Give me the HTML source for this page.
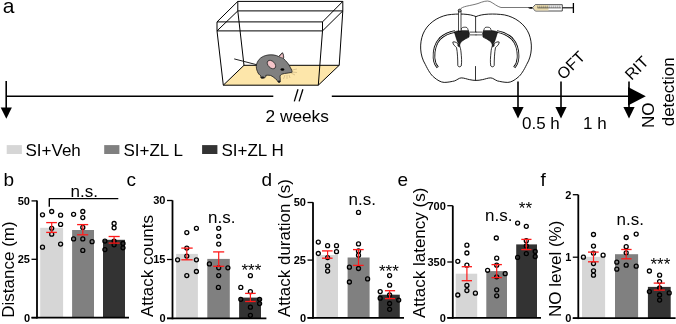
<!DOCTYPE html>
<html><head><meta charset="utf-8"><style>
html,body{margin:0;padding:0;background:#fff;width:676px;height:324px;overflow:hidden;position:relative}
</style></head><body>
<svg width="676" height="324" viewBox="0 0 676 324" style="position:absolute;left:0;top:0;will-change:transform">
<g font-family='"Liberation Sans", sans-serif' fill="#000">
<text x="2.8" y="13.1" font-size="21" text-anchor="start" font-weight="normal" >a</text>
<line x1="6.2" y1="96.2" x2="273.3" y2="96.2" stroke="#000" stroke-width="1.6"/>
<line x1="331.8" y1="96.2" x2="630" y2="96.2" stroke="#000" stroke-width="1.6"/>
<line x1="6.2" y1="81" x2="6.2" y2="108" stroke="#000" stroke-width="1.6"/>
<polygon points="0.7,107.4 11.9,107.4 6.3,118.8" fill="#000"/>
<line x1="298" y1="89.3" x2="294.3" y2="101.4" stroke="#000" stroke-width="1.3"/>
<line x1="302.9" y1="89.3" x2="299.1" y2="101.4" stroke="#000" stroke-width="1.3"/>
<text x="265.5" y="121.9" font-size="17.3" text-anchor="start" font-weight="normal" >2 weeks</text>
<line x1="518" y1="81.5" x2="518" y2="108" stroke="#000" stroke-width="1.6"/>
<polygon points="512.4,107 523.6,107 518,118.5" fill="#000"/>
<line x1="561" y1="81.5" x2="561" y2="108" stroke="#000" stroke-width="1.6"/>
<polygon points="555.4,107 566.6,107 561,118.5" fill="#000"/>
<line x1="629" y1="81.5" x2="629" y2="108" stroke="#000" stroke-width="1.6"/>
<polygon points="623.4,107 634.6,107 629,118.5" fill="#000"/>
<polygon points="628,87 628,105.6 645.8,96.3" fill="#000"/>
<text x="522" y="128.6" font-size="17" text-anchor="start" font-weight="normal" >0.5 h</text>
<text x="583" y="128.6" font-size="17" text-anchor="start" font-weight="normal" >1 h</text>
<text transform="translate(563.5,80.4) rotate(-45)" font-size="16" text-anchor="start">OFT</text>
<text transform="translate(631.4,81.1) rotate(-45)" font-size="16" text-anchor="start">RIT</text>
<text transform="translate(653.5,128) rotate(-90)" font-size="17" text-anchor="start">NO</text>
<text transform="translate(673.5,126.3) rotate(-90)" font-size="17" text-anchor="start">detection</text>
<polygon points="223.3,85.2 318.3,85.2 339.2,65.3 244,65.3" fill="#fde6aa" stroke="#000" stroke-width="1"/>
<line x1="237.8" y1="1.4" x2="342.8" y2="1.4" stroke="#000" stroke-width="1"/>
<line x1="237.8" y1="10.9" x2="342.8" y2="10.9" stroke="#000" stroke-width="1"/>
<line x1="217" y1="21.9" x2="322.5" y2="21.9" stroke="#000" stroke-width="1"/>
<line x1="217" y1="30.9" x2="322.5" y2="30.9" stroke="#000" stroke-width="1"/>
<line x1="217" y1="21.9" x2="237.8" y2="1.4" stroke="#000" stroke-width="1"/>
<line x1="217" y1="30.9" x2="237.8" y2="10.9" stroke="#000" stroke-width="1"/>
<line x1="322.5" y1="21.9" x2="342.8" y2="1.4" stroke="#000" stroke-width="1"/>
<line x1="322.5" y1="30.9" x2="342.8" y2="10.9" stroke="#000" stroke-width="1"/>
<line x1="217" y1="21.9" x2="217" y2="30.9" stroke="#000" stroke-width="1"/>
<line x1="237.8" y1="1.4" x2="237.8" y2="10.9" stroke="#000" stroke-width="1"/>
<line x1="342.8" y1="1.4" x2="342.8" y2="10.9" stroke="#000" stroke-width="1"/>
<line x1="322.5" y1="21.9" x2="322.5" y2="30.9" stroke="#000" stroke-width="1"/>
<line x1="217" y1="30.9" x2="223.3" y2="85.2" stroke="#000" stroke-width="1"/>
<line x1="322.5" y1="30.9" x2="318.3" y2="85.2" stroke="#000" stroke-width="1"/>
<line x1="342.8" y1="10.9" x2="339.2" y2="65.5" stroke="#000" stroke-width="1"/>
<line x1="237.8" y1="10.9" x2="244" y2="65.5" stroke="#000" stroke-width="1"/>
<path d="M234.2,58.9 L257,64.8" stroke="#222" stroke-width="1" fill="none"/>
<path d="M256.5,64.6 C258,59 262,56 268,55 C272,54.5 276,55 278.6,56.5 L282.4,52.7 C283.5,54.5 284,57 283.5,58.6 C286,61 289,64 290.5,67.8 C291.5,69.5 292.3,71 292.1,72.3 C290,73 287,73 284.5,73.5 C282,74 280.5,74.5 280,76 L280.3,80.5 C280.5,82 279.5,82.8 278.5,82.3 C277.5,81.8 277.3,80.8 277,80 C275,78.5 272.5,76 270.4,75.4 C268.5,75 267,75.2 265.8,75.4 C266,76.5 265.5,77.5 264.5,77.8 L262,78.3 C260.8,78.3 260.5,77 261,76 C259.5,75 258,73.5 257.5,71.7 C256.5,69.5 256,67 256.5,64.6 Z" fill="#808080" stroke="#1a1a1a" stroke-width="0.8"/>
<ellipse cx="262.6" cy="77.4" rx="1.9" ry="0.9" fill="#1a1a1a"/>
<ellipse cx="279.2" cy="81.6" rx="1.3" ry="1" fill="#1a1a1a"/>
<path d="M279,56.8 L282.4,52.9 C283.3,54.6 283.6,56.8 283.3,58.3 Z" fill="#f4c4c8" stroke="#1a1a1a" stroke-width="0.5"/>
<ellipse cx="271.6" cy="64.6" rx="5" ry="3.3" transform="rotate(45 271.6 64.4)" fill="#f4c4c8" stroke="#333" stroke-width="0.9"/>
<ellipse cx="282.4" cy="69.5" rx="1.9" ry="1.25" fill="#000"/>
<path d="M292,70 L297,69 M292,72 L297,72.5 M291,73 L295,75 M285,75 L283.5,79 M287,75 L287,79 M289,75 L290,78" stroke="#b8a070" stroke-width="0.5" fill="none"/>
<path d="M476,16.6 C470,13.8 458,13.4 447.6,14.9 C437,17 427,24 423,34 C419.5,43 419.5,55 425.4,64.6 C428,70 431,75 433.9,77.2 C437,80 441,82.4 444.2,82.4 C448,82.4 452,81.5 454.6,80.9 C457,80 459,78 461.2,77.9 C464,77.8 467,79.2 469.4,79.6 C472,80.2 474,80.4 476,80.4 C478,80.4 480,80.2 482.6,79.6 C485,79.2 488,77.8 490.8,77.9 C493,78 495,80 497.4,80.9 C500,81.5 504,82.4 507.8,82.4 C511,82.4 515,80 518.1,77.2 C521,75 524,70 526.6,64.6 C532.5,55 532.5,43 529,34 C525,24 515,17 504.4,14.9 C494,13.4 482,13.8 476,16.6 Z" fill="#fff" stroke="#000" stroke-width="0.9"/>
<line x1="475.6" y1="16.6" x2="475.6" y2="32" stroke="#000" stroke-width="0.8"/>
<line x1="475.5" y1="66.1" x2="475.5" y2="80.4" stroke="#000" stroke-width="0.8"/>
<g><path d="M455,31.5 C449,32.5 444,35 440,38.5 C436,43 433.5,50 434,58 C434.3,62.5 436,65.5 437.8,67.5" fill="none" stroke="#000" stroke-width="2.5"/><path d="M455,31.5 C449,32.5 444,35 440,38.5 C436,43 433.5,50 434,58 C434.3,62.5 436,65.5 437.8,67.5" fill="none" stroke="#fff" stroke-width="0.9"/><path d="M469.9,32.1 L476.5,32.1 M469.9,34.9 L476.5,34.9" stroke="#000" stroke-width="0.7"/><path d="M454.3,31.9 C457,30.8 462,30.2 468.5,30.4 L469.4,33.2 L469,37.1 C467.5,38 466.5,38.5 465.3,39 L461.5,41.5 L459.5,44.5 L457.8,42.5 C457,40.5 456.3,38.5 455.6,36 Z" fill="#222" stroke="#000" stroke-width="0.6"/><path d="M461,30.3 C461,28.5 462,27.2 464,27.2 L466,27.2 C467.5,27.5 468,29 468,30.3" fill="#fff" stroke="#000" stroke-width="0.7"/><path d="M452.8,42 C454,41.5 456,42 457.5,43.5 C459.5,44.5 460.5,47 461,52 C461.5,57 462,62 461.2,66 C460,67.3 458.3,67 457.8,65.5 C457.8,60 457.5,52 456.5,47.5 C455,46 453,45 452.8,42 Z" fill="#fff" stroke="#000" stroke-width="0.8"/><path d="M457.5,43.5 L460.5,44.5 L459.5,47.5 L457.5,46 Z" fill="#222"/></g>
<g transform="translate(952,0) scale(-1,1)"><path d="M455,31.5 C449,32.5 444,35 440,38.5 C436,43 433.5,50 434,58 C434.3,62.5 436,65.5 437.8,67.5" fill="none" stroke="#000" stroke-width="2.5"/><path d="M455,31.5 C449,32.5 444,35 440,38.5 C436,43 433.5,50 434,58 C434.3,62.5 436,65.5 437.8,67.5" fill="none" stroke="#fff" stroke-width="0.9"/><path d="M469.9,32.1 L476.5,32.1 M469.9,34.9 L476.5,34.9" stroke="#000" stroke-width="0.7"/><path d="M454.3,31.9 C457,30.8 462,30.2 468.5,30.4 L469.4,33.2 L469,37.1 C467.5,38 466.5,38.5 465.3,39 L461.5,41.5 L459.5,44.5 L457.8,42.5 C457,40.5 456.3,38.5 455.6,36 Z" fill="#222" stroke="#000" stroke-width="0.6"/><path d="M461,30.3 C461,28.5 462,27.2 464,27.2 L466,27.2 C467.5,27.5 468,29 468,30.3" fill="#fff" stroke="#000" stroke-width="0.7"/><path d="M452.8,42 C454,41.5 456,42 457.5,43.5 C459.5,44.5 460.5,47 461,52 C461.5,57 462,62 461.2,66 C460,67.3 458.3,67 457.8,65.5 C457.8,60 457.5,52 456.5,47.5 C455,46 453,45 452.8,42 Z" fill="#fff" stroke="#000" stroke-width="0.8"/><path d="M457.5,43.5 L460.5,44.5 L459.5,47.5 L457.5,46 Z" fill="#222"/></g>
<rect x="458.4" y="11" width="2.6" height="20" fill="#fff" stroke="#000" stroke-width="0.7"/>
<circle cx="459.7" cy="10.6" r="1.5" fill="#999" stroke="#000" stroke-width="0.7"/>
<path d="M460,9.6 C462,6 470,6 478,3.5 C483,1.5 487,0.3 490,1.5 C494,3.5 497,6.5 501,7.5 L529,7.5" fill="none" stroke="#555" stroke-width="0.8"/>
<path d="M528,7.8 C529,6.9 531,6.9 532.6,7.2 L532.6,8.4 C531,8.8 529,8.8 528,7.8 Z" fill="#000"/>
<path d="M532.6,7.8 L535.3,4.7 L562.3,4.7 L562.3,11 L535.3,11 Z" fill="#fff" stroke="#222" stroke-width="0.8"/>
<path d="M533.4,7.8 L535.6,5.1 L548.5,5.1 L548.5,10.6 L535.6,10.6 Z" fill="#ebdcae"/>
<line x1="537.5" y1="7.9" x2="561" y2="7.9" stroke="#333" stroke-width="0.7"/>
<line x1="537.8" y1="5.6" x2="537.8" y2="7.9" stroke="#333" stroke-width="0.45"/>
<line x1="539.8" y1="5.6" x2="539.8" y2="7.9" stroke="#333" stroke-width="0.45"/>
<line x1="541.8" y1="5.6" x2="541.8" y2="7.9" stroke="#333" stroke-width="0.45"/>
<line x1="543.8" y1="5.6" x2="543.8" y2="7.9" stroke="#333" stroke-width="0.45"/>
<line x1="545.8" y1="5.6" x2="545.8" y2="7.9" stroke="#333" stroke-width="0.45"/>
<line x1="547.8" y1="5.6" x2="547.8" y2="7.9" stroke="#333" stroke-width="0.45"/>
<line x1="549.8" y1="5.6" x2="549.8" y2="7.9" stroke="#333" stroke-width="0.45"/>
<line x1="551.8" y1="5.6" x2="551.8" y2="7.9" stroke="#333" stroke-width="0.45"/>
<line x1="553.8" y1="5.6" x2="553.8" y2="7.9" stroke="#333" stroke-width="0.45"/>
<line x1="555.8" y1="5.6" x2="555.8" y2="7.9" stroke="#333" stroke-width="0.45"/>
<line x1="557.8" y1="5.6" x2="557.8" y2="7.9" stroke="#333" stroke-width="0.45"/>
<line x1="559.8" y1="5.6" x2="559.8" y2="7.9" stroke="#333" stroke-width="0.45"/>
<line x1="562.3" y1="7.8" x2="573" y2="7.8" stroke="#000" stroke-width="1.1"/>
<line x1="573.4" y1="3" x2="573.4" y2="13" stroke="#000" stroke-width="1.3"/>
<rect x="6.7" y="145.1" width="15.2" height="8.9" fill="#d6d6d6"/>
<text x="25.5" y="155.8" font-size="17" text-anchor="start" font-weight="normal" >SI+Veh</text>
<rect x="104.2" y="145.1" width="15.2" height="8.9" fill="#808080"/>
<text x="123.5" y="155.8" font-size="17" text-anchor="start" font-weight="normal" >SI+ZL L</text>
<rect x="202.1" y="145.1" width="15.3" height="8.9" fill="#333333"/>
<text x="221.5" y="155.8" font-size="17" text-anchor="start" font-weight="normal" >SI+ZL H</text>
<text x="3.5" y="185.6" font-size="19" text-anchor="start" font-weight="normal" >b</text>
<text x="126.5" y="185.6" font-size="19" text-anchor="start" font-weight="normal" >c</text>
<text x="261.5" y="185.6" font-size="19" text-anchor="start" font-weight="normal" >d</text>
<text x="397.5" y="185.6" font-size="19" text-anchor="start" font-weight="normal" >e</text>
<text x="540.5" y="185.6" font-size="19" text-anchor="start" font-weight="normal" >f</text>
<rect x="40.2" y="227.8" width="22.9" height="89.89999999999998" fill="#d6d6d6"/>
<rect x="72.1" y="230" width="21.900000000000006" height="87.69999999999999" fill="#808080"/>
<rect x="103" y="239.8" width="22" height="77.89999999999998" fill="#333333"/>
<line x1="37" y1="200.5" x2="37" y2="318.59999999999997" stroke="#000" stroke-width="1.8"/>
<line x1="31.5" y1="317.7" x2="129" y2="317.7" stroke="#000" stroke-width="1.8"/>
<line x1="31.5" y1="200.9" x2="37" y2="200.9" stroke="#000" stroke-width="1.3"/>
<text x="30" y="204.8" font-size="11" text-anchor="end" font-weight="bold" >50</text>
<line x1="31.5" y1="259.3" x2="37" y2="259.3" stroke="#000" stroke-width="1.3"/>
<text x="30" y="263.2" font-size="11" text-anchor="end" font-weight="bold" >25</text>
<line x1="31.5" y1="317.7" x2="37" y2="317.7" stroke="#000" stroke-width="1.3"/>
<text x="30" y="321.59999999999997" font-size="11" text-anchor="end" font-weight="bold" >0</text>
<circle cx="42.5" cy="214.8" r="2.0" fill="none" stroke="#000" stroke-width="1.3"/>
<circle cx="51.7" cy="211.5" r="2.0" fill="none" stroke="#000" stroke-width="1.3"/>
<circle cx="60.6" cy="215.2" r="2.0" fill="none" stroke="#000" stroke-width="1.3"/>
<circle cx="60.6" cy="224.4" r="2.0" fill="none" stroke="#000" stroke-width="1.3"/>
<circle cx="51.7" cy="228.3" r="2.0" fill="none" stroke="#000" stroke-width="1.3"/>
<circle cx="51.7" cy="234.2" r="2.0" fill="none" stroke="#000" stroke-width="1.3"/>
<circle cx="42.5" cy="247.2" r="2.0" fill="none" stroke="#000" stroke-width="1.3"/>
<circle cx="60.6" cy="244.1" r="2.0" fill="none" stroke="#000" stroke-width="1.3"/>
<circle cx="73.6" cy="214.3" r="2.0" fill="none" stroke="#000" stroke-width="1.3"/>
<circle cx="82.8" cy="211.5" r="2.0" fill="none" stroke="#000" stroke-width="1.3"/>
<circle cx="82.8" cy="217.6" r="2.0" fill="none" stroke="#000" stroke-width="1.3"/>
<circle cx="82.8" cy="227.4" r="2.0" fill="none" stroke="#000" stroke-width="1.3"/>
<circle cx="73.6" cy="238.9" r="2.0" fill="none" stroke="#000" stroke-width="1.3"/>
<circle cx="82.8" cy="238.9" r="2.0" fill="none" stroke="#000" stroke-width="1.3"/>
<circle cx="92.1" cy="241.7" r="2.0" fill="none" stroke="#000" stroke-width="1.3"/>
<circle cx="82.8" cy="250.4" r="2.0" fill="none" stroke="#000" stroke-width="1.3"/>
<circle cx="114.1" cy="223.5" r="2.0" fill="none" stroke="#000" stroke-width="1.3"/>
<circle cx="114.1" cy="227.8" r="2.0" fill="none" stroke="#000" stroke-width="1.3"/>
<circle cx="104.9" cy="241.1" r="2.0" fill="none" stroke="#000" stroke-width="1.3"/>
<circle cx="114.1" cy="241.1" r="2.0" fill="none" stroke="#000" stroke-width="1.3"/>
<circle cx="114.1" cy="244.8" r="2.0" fill="none" stroke="#000" stroke-width="1.3"/>
<circle cx="123" cy="243.5" r="2.0" fill="none" stroke="#000" stroke-width="1.3"/>
<circle cx="123" cy="247.8" r="2.0" fill="none" stroke="#000" stroke-width="1.3"/>
<circle cx="104.9" cy="249.6" r="2.0" fill="none" stroke="#000" stroke-width="1.3"/>
<line x1="51.7" y1="222.6" x2="51.7" y2="232.4" stroke="#ff1a1a" stroke-width="1.2"/>
<line x1="46.2" y1="222.6" x2="56.9" y2="222.6" stroke="#ff1a1a" stroke-width="1.3"/>
<line x1="46.2" y1="232.4" x2="56.9" y2="232.4" stroke="#ff1a1a" stroke-width="1.3"/>
<line x1="82.8" y1="224.6" x2="82.8" y2="234.8" stroke="#ff1a1a" stroke-width="1.2"/>
<line x1="77.1" y1="224.6" x2="88.2" y2="224.6" stroke="#ff1a1a" stroke-width="1.3"/>
<line x1="77.1" y1="234.8" x2="88.2" y2="234.8" stroke="#ff1a1a" stroke-width="1.3"/>
<line x1="114.1" y1="236.5" x2="114.1" y2="243.1" stroke="#ff1a1a" stroke-width="1.2"/>
<line x1="108.6" y1="236.5" x2="119.7" y2="236.5" stroke="#ff1a1a" stroke-width="1.3"/>
<line x1="108.6" y1="243.1" x2="119.7" y2="243.1" stroke="#ff1a1a" stroke-width="1.3"/>
<text transform="translate(14.2,317.7) rotate(-90)" font-size="17" text-anchor="start">Distance (m)</text>
<line x1="48.9" y1="198.6" x2="118.3" y2="198.6" stroke="#000" stroke-width="1.4"/>
<line x1="49.3" y1="198.6" x2="49.3" y2="206.8" stroke="#000" stroke-width="1.4"/>
<text x="70.5" y="197.4" font-size="17" text-anchor="start" font-weight="normal" >n.s.</text>
<rect x="176.1" y="253.9" width="21.80000000000001" height="64.49999999999997" fill="#d6d6d6"/>
<rect x="207.3" y="258.9" width="22.5" height="59.5" fill="#808080"/>
<rect x="239.1" y="297.6" width="21.900000000000006" height="20.799999999999955" fill="#333333"/>
<line x1="172.5" y1="200.3" x2="172.5" y2="319.29999999999995" stroke="#000" stroke-width="1.8"/>
<line x1="167.0" y1="318.4" x2="266.4" y2="318.4" stroke="#000" stroke-width="1.8"/>
<line x1="167.0" y1="200.5" x2="172.5" y2="200.5" stroke="#000" stroke-width="1.3"/>
<text x="165.5" y="204.4" font-size="11" text-anchor="end" font-weight="bold" >30</text>
<line x1="167.0" y1="259.5" x2="172.5" y2="259.5" stroke="#000" stroke-width="1.3"/>
<text x="165.5" y="263.4" font-size="11" text-anchor="end" font-weight="bold" >15</text>
<line x1="167.0" y1="318.4" x2="172.5" y2="318.4" stroke="#000" stroke-width="1.3"/>
<text x="165.5" y="322.29999999999995" font-size="11" text-anchor="end" font-weight="bold" >0</text>
<circle cx="196.4" cy="228.3" r="2.0" fill="none" stroke="#000" stroke-width="1.3"/>
<circle cx="186.8" cy="232.6" r="2.0" fill="none" stroke="#000" stroke-width="1.3"/>
<circle cx="186.8" cy="248.1" r="2.0" fill="none" stroke="#000" stroke-width="1.3"/>
<circle cx="186.8" cy="256.1" r="2.0" fill="none" stroke="#000" stroke-width="1.3"/>
<circle cx="177.6" cy="259.8" r="2.0" fill="none" stroke="#000" stroke-width="1.3"/>
<circle cx="196.4" cy="259.8" r="2.0" fill="none" stroke="#000" stroke-width="1.3"/>
<circle cx="196.4" cy="271.5" r="2.0" fill="none" stroke="#000" stroke-width="1.3"/>
<circle cx="186.8" cy="275.6" r="2.0" fill="none" stroke="#000" stroke-width="1.3"/>
<circle cx="218.7" cy="228.3" r="2.0" fill="none" stroke="#000" stroke-width="1.3"/>
<circle cx="218.7" cy="236.3" r="2.0" fill="none" stroke="#000" stroke-width="1.3"/>
<circle cx="218.7" cy="244.1" r="2.0" fill="none" stroke="#000" stroke-width="1.3"/>
<circle cx="209.4" cy="263.9" r="2.0" fill="none" stroke="#000" stroke-width="1.3"/>
<circle cx="218.7" cy="267.8" r="2.0" fill="none" stroke="#000" stroke-width="1.3"/>
<circle cx="227.9" cy="267.8" r="2.0" fill="none" stroke="#000" stroke-width="1.3"/>
<circle cx="218.7" cy="275.6" r="2.0" fill="none" stroke="#000" stroke-width="1.3"/>
<circle cx="218.4" cy="287.4" r="2.0" fill="none" stroke="#000" stroke-width="1.3"/>
<circle cx="250.4" cy="275.7" r="2.0" fill="none" stroke="#000" stroke-width="1.3"/>
<circle cx="240.8" cy="287.4" r="2.0" fill="none" stroke="#000" stroke-width="1.3"/>
<circle cx="250.4" cy="291.7" r="2.0" fill="none" stroke="#000" stroke-width="1.3"/>
<circle cx="240.8" cy="299.3" r="2.0" fill="none" stroke="#000" stroke-width="1.3"/>
<circle cx="259.6" cy="299.3" r="2.0" fill="none" stroke="#000" stroke-width="1.3"/>
<circle cx="259.6" cy="303.6" r="2.0" fill="none" stroke="#000" stroke-width="1.3"/>
<circle cx="250.4" cy="307.2" r="2.0" fill="none" stroke="#000" stroke-width="1.3"/>
<circle cx="250.4" cy="315.3" r="2.0" fill="none" stroke="#000" stroke-width="1.3"/>
<line x1="186.8" y1="248.1" x2="186.8" y2="259.8" stroke="#ff1a1a" stroke-width="1.2"/>
<line x1="181.3" y1="248.1" x2="192.7" y2="248.1" stroke="#ff1a1a" stroke-width="1.3"/>
<line x1="181.3" y1="259.8" x2="192.7" y2="259.8" stroke="#ff1a1a" stroke-width="1.3"/>
<line x1="218.7" y1="251.9" x2="218.7" y2="266.3" stroke="#ff1a1a" stroke-width="1.2"/>
<line x1="213.1" y1="251.9" x2="224.2" y2="251.9" stroke="#ff1a1a" stroke-width="1.3"/>
<line x1="213.1" y1="266.3" x2="224.2" y2="266.3" stroke="#ff1a1a" stroke-width="1.3"/>
<line x1="250.4" y1="293.4" x2="250.4" y2="301.5" stroke="#ff1a1a" stroke-width="1.2"/>
<line x1="245.1" y1="293.4" x2="255.7" y2="293.4" stroke="#ff1a1a" stroke-width="1.3"/>
<line x1="245.1" y1="301.5" x2="255.7" y2="301.5" stroke="#ff1a1a" stroke-width="1.3"/>
<text transform="translate(152.8,317) rotate(-90)" font-size="17" text-anchor="start">Attack counts</text>
<text x="208" y="223.3" font-size="17" text-anchor="start" font-weight="normal" >n.s.</text>
<text x="241.5" y="276" font-size="17" text-anchor="start" font-weight="normal" >***</text>
<rect x="316.5" y="255" width="21.5" height="62.80000000000001" fill="#d6d6d6"/>
<rect x="347.6" y="257.5" width="22.0" height="60.30000000000001" fill="#808080"/>
<rect x="378.6" y="294.7" width="21.19999999999999" height="23.100000000000023" fill="#333333"/>
<line x1="313" y1="202.3" x2="313" y2="318.7" stroke="#000" stroke-width="1.8"/>
<line x1="307.5" y1="317.8" x2="404" y2="317.8" stroke="#000" stroke-width="1.8"/>
<line x1="307.5" y1="202.5" x2="313" y2="202.5" stroke="#000" stroke-width="1.3"/>
<text x="306" y="206.4" font-size="11" text-anchor="end" font-weight="bold" >50</text>
<line x1="307.5" y1="260.1" x2="313" y2="260.1" stroke="#000" stroke-width="1.3"/>
<text x="306" y="264.0" font-size="11" text-anchor="end" font-weight="bold" >25</text>
<line x1="307.5" y1="317.8" x2="313" y2="317.8" stroke="#000" stroke-width="1.3"/>
<text x="306" y="321.7" font-size="11" text-anchor="end" font-weight="bold" >0</text>
<circle cx="318.3" cy="242.1" r="2.0" fill="none" stroke="#000" stroke-width="1.3"/>
<circle cx="327.6" cy="245.7" r="2.0" fill="none" stroke="#000" stroke-width="1.3"/>
<circle cx="336.5" cy="245.7" r="2.0" fill="none" stroke="#000" stroke-width="1.3"/>
<circle cx="336.5" cy="251.7" r="2.0" fill="none" stroke="#000" stroke-width="1.3"/>
<circle cx="318.3" cy="253.5" r="2.0" fill="none" stroke="#000" stroke-width="1.3"/>
<circle cx="327.6" cy="257.6" r="2.0" fill="none" stroke="#000" stroke-width="1.3"/>
<circle cx="327.6" cy="265.9" r="2.0" fill="none" stroke="#000" stroke-width="1.3"/>
<circle cx="327.6" cy="271.1" r="2.0" fill="none" stroke="#000" stroke-width="1.3"/>
<circle cx="358.5" cy="212.4" r="2.0" fill="none" stroke="#000" stroke-width="1.3"/>
<circle cx="358.5" cy="243.9" r="2.0" fill="none" stroke="#000" stroke-width="1.3"/>
<circle cx="358.5" cy="250.9" r="2.0" fill="none" stroke="#000" stroke-width="1.3"/>
<circle cx="358.5" cy="255.2" r="2.0" fill="none" stroke="#000" stroke-width="1.3"/>
<circle cx="349.4" cy="267.2" r="2.0" fill="none" stroke="#000" stroke-width="1.3"/>
<circle cx="358.5" cy="268.5" r="2.0" fill="none" stroke="#000" stroke-width="1.3"/>
<circle cx="367.6" cy="278.9" r="2.0" fill="none" stroke="#000" stroke-width="1.3"/>
<circle cx="349.4" cy="282" r="2.0" fill="none" stroke="#000" stroke-width="1.3"/>
<circle cx="389.6" cy="275.6" r="2.0" fill="none" stroke="#000" stroke-width="1.3"/>
<circle cx="389.6" cy="285.2" r="2.0" fill="none" stroke="#000" stroke-width="1.3"/>
<circle cx="380.2" cy="291.6" r="2.0" fill="none" stroke="#000" stroke-width="1.3"/>
<circle cx="389.6" cy="295" r="2.0" fill="none" stroke="#000" stroke-width="1.3"/>
<circle cx="380.2" cy="298.2" r="2.0" fill="none" stroke="#000" stroke-width="1.3"/>
<circle cx="398.7" cy="300.1" r="2.0" fill="none" stroke="#000" stroke-width="1.3"/>
<circle cx="389.6" cy="303.5" r="2.0" fill="none" stroke="#000" stroke-width="1.3"/>
<circle cx="389.6" cy="309.3" r="2.0" fill="none" stroke="#000" stroke-width="1.3"/>
<line x1="327.6" y1="250.9" x2="327.6" y2="258.2" stroke="#ff1a1a" stroke-width="1.2"/>
<line x1="322" y1="250.9" x2="332.6" y2="250.9" stroke="#ff1a1a" stroke-width="1.3"/>
<line x1="322" y1="258.2" x2="332.6" y2="258.2" stroke="#ff1a1a" stroke-width="1.3"/>
<line x1="358.5" y1="249.6" x2="358.5" y2="265.4" stroke="#ff1a1a" stroke-width="1.2"/>
<line x1="353" y1="249.6" x2="363.7" y2="249.6" stroke="#ff1a1a" stroke-width="1.3"/>
<line x1="353" y1="265.4" x2="363.7" y2="265.4" stroke="#ff1a1a" stroke-width="1.3"/>
<line x1="389.6" y1="290.7" x2="389.6" y2="298.6" stroke="#ff1a1a" stroke-width="1.2"/>
<line x1="384.9" y1="290.7" x2="395.1" y2="290.7" stroke="#ff1a1a" stroke-width="1.3"/>
<line x1="384.9" y1="298.6" x2="395.1" y2="298.6" stroke="#ff1a1a" stroke-width="1.3"/>
<text transform="translate(289.5,317) rotate(-90)" font-size="17" text-anchor="start">Attack duration (s)</text>
<text x="348.5" y="205" font-size="17" text-anchor="start" font-weight="normal" >n.s.</text>
<text x="379" y="276.5" font-size="17" text-anchor="start" font-weight="normal" >***</text>
<rect x="455.7" y="273.7" width="21.5" height="44.10000000000002" fill="#d6d6d6"/>
<rect x="486.3" y="271.1" width="20.69999999999999" height="46.69999999999999" fill="#808080"/>
<rect x="516.2" y="244.4" width="20.799999999999955" height="73.4" fill="#333333"/>
<line x1="452.8" y1="205.7" x2="452.8" y2="318.7" stroke="#000" stroke-width="1.8"/>
<line x1="447.3" y1="317.8" x2="541" y2="317.8" stroke="#000" stroke-width="1.8"/>
<line x1="447.3" y1="205.7" x2="452.8" y2="205.7" stroke="#000" stroke-width="1.3"/>
<text x="445.8" y="209.6" font-size="11" text-anchor="end" font-weight="bold" >700</text>
<line x1="447.3" y1="262" x2="452.8" y2="262" stroke="#000" stroke-width="1.3"/>
<text x="445.8" y="265.9" font-size="11" text-anchor="end" font-weight="bold" >350</text>
<line x1="447.3" y1="317.8" x2="452.8" y2="317.8" stroke="#000" stroke-width="1.3"/>
<text x="445.8" y="321.7" font-size="11" text-anchor="end" font-weight="bold" >0</text>
<circle cx="466.9" cy="245.2" r="2.0" fill="none" stroke="#000" stroke-width="1.3"/>
<circle cx="466.9" cy="253" r="2.0" fill="none" stroke="#000" stroke-width="1.3"/>
<circle cx="457.8" cy="261.3" r="2.0" fill="none" stroke="#000" stroke-width="1.3"/>
<circle cx="466.9" cy="265.2" r="2.0" fill="none" stroke="#000" stroke-width="1.3"/>
<circle cx="466.9" cy="285.4" r="2.0" fill="none" stroke="#000" stroke-width="1.3"/>
<circle cx="466.9" cy="290.6" r="2.0" fill="none" stroke="#000" stroke-width="1.3"/>
<circle cx="457.8" cy="295" r="2.0" fill="none" stroke="#000" stroke-width="1.3"/>
<circle cx="475.4" cy="293.2" r="2.0" fill="none" stroke="#000" stroke-width="1.3"/>
<circle cx="496.3" cy="238" r="2.0" fill="none" stroke="#000" stroke-width="1.3"/>
<circle cx="496.7" cy="258.2" r="2.0" fill="none" stroke="#000" stroke-width="1.3"/>
<circle cx="496.7" cy="265.2" r="2.0" fill="none" stroke="#000" stroke-width="1.3"/>
<circle cx="487.6" cy="270.3" r="2.0" fill="none" stroke="#000" stroke-width="1.3"/>
<circle cx="505.2" cy="273.7" r="2.0" fill="none" stroke="#000" stroke-width="1.3"/>
<circle cx="496.7" cy="276.8" r="2.0" fill="none" stroke="#000" stroke-width="1.3"/>
<circle cx="496.7" cy="289.8" r="2.0" fill="none" stroke="#000" stroke-width="1.3"/>
<circle cx="496.7" cy="295.8" r="2.0" fill="none" stroke="#000" stroke-width="1.3"/>
<circle cx="517.6" cy="223.1" r="2.0" fill="none" stroke="#000" stroke-width="1.3"/>
<circle cx="526.3" cy="226.3" r="2.0" fill="none" stroke="#000" stroke-width="1.3"/>
<circle cx="526.3" cy="240.7" r="2.0" fill="none" stroke="#000" stroke-width="1.3"/>
<circle cx="526.3" cy="245.9" r="2.0" fill="none" stroke="#000" stroke-width="1.3"/>
<circle cx="535.2" cy="251.5" r="2.0" fill="none" stroke="#000" stroke-width="1.3"/>
<circle cx="526.3" cy="253.7" r="2.0" fill="none" stroke="#000" stroke-width="1.3"/>
<circle cx="535.2" cy="256.5" r="2.0" fill="none" stroke="#000" stroke-width="1.3"/>
<circle cx="517.6" cy="257.4" r="2.0" fill="none" stroke="#000" stroke-width="1.3"/>
<line x1="466.9" y1="266.7" x2="466.9" y2="280.7" stroke="#ff1a1a" stroke-width="1.2"/>
<line x1="461.7" y1="266.7" x2="472" y2="266.7" stroke="#ff1a1a" stroke-width="1.3"/>
<line x1="461.7" y1="280.7" x2="472" y2="280.7" stroke="#ff1a1a" stroke-width="1.3"/>
<line x1="496.7" y1="264.6" x2="496.7" y2="277.6" stroke="#ff1a1a" stroke-width="1.2"/>
<line x1="491.5" y1="264.6" x2="501.9" y2="264.6" stroke="#ff1a1a" stroke-width="1.3"/>
<line x1="491.5" y1="277.6" x2="501.9" y2="277.6" stroke="#ff1a1a" stroke-width="1.3"/>
<line x1="526.3" y1="239.4" x2="526.3" y2="249.6" stroke="#ff1a1a" stroke-width="1.2"/>
<line x1="521.3" y1="239.4" x2="531.5" y2="239.4" stroke="#ff1a1a" stroke-width="1.3"/>
<line x1="521.3" y1="249.6" x2="531.5" y2="249.6" stroke="#ff1a1a" stroke-width="1.3"/>
<text transform="translate(424.7,318) rotate(-90)" font-size="17" text-anchor="start">Attack latency (s)</text>
<text x="485" y="220.7" font-size="17" text-anchor="start" font-weight="normal" >n.s.</text>
<text x="518.8" y="214" font-size="17" text-anchor="start" font-weight="normal" >**</text>
<rect x="582" y="256.8" width="23.100000000000023" height="61.39999999999998" fill="#d6d6d6"/>
<rect x="615" y="254.2" width="23.100000000000023" height="64.0" fill="#808080"/>
<rect x="647.9" y="286.9" width="22.800000000000068" height="31.30000000000001" fill="#333333"/>
<line x1="578.3" y1="194.7" x2="578.3" y2="319.09999999999997" stroke="#000" stroke-width="1.8"/>
<line x1="572.8" y1="318.2" x2="675.6" y2="318.2" stroke="#000" stroke-width="1.8"/>
<line x1="572.8" y1="194.7" x2="578.3" y2="194.7" stroke="#000" stroke-width="1.3"/>
<text x="571.3" y="198.6" font-size="11" text-anchor="end" font-weight="bold" >2</text>
<line x1="572.8" y1="257.2" x2="578.3" y2="257.2" stroke="#000" stroke-width="1.3"/>
<text x="571.3" y="261.09999999999997" font-size="11" text-anchor="end" font-weight="bold" >1</text>
<line x1="572.8" y1="318.2" x2="578.3" y2="318.2" stroke="#000" stroke-width="1.3"/>
<text x="571.3" y="322.09999999999997" font-size="11" text-anchor="end" font-weight="bold" >0</text>
<circle cx="593.5" cy="234.5" r="2.0" fill="none" stroke="#000" stroke-width="1.3"/>
<circle cx="593.5" cy="246.1" r="2.0" fill="none" stroke="#000" stroke-width="1.3"/>
<circle cx="593.5" cy="253.2" r="2.0" fill="none" stroke="#000" stroke-width="1.3"/>
<circle cx="583.4" cy="257.2" r="2.0" fill="none" stroke="#000" stroke-width="1.3"/>
<circle cx="603.1" cy="255.2" r="2.0" fill="none" stroke="#000" stroke-width="1.3"/>
<circle cx="593.5" cy="263.6" r="2.0" fill="none" stroke="#000" stroke-width="1.3"/>
<circle cx="593.5" cy="270.8" r="2.0" fill="none" stroke="#000" stroke-width="1.3"/>
<circle cx="593.5" cy="275.2" r="2.0" fill="none" stroke="#000" stroke-width="1.3"/>
<circle cx="636.2" cy="234.1" r="2.0" fill="none" stroke="#000" stroke-width="1.3"/>
<circle cx="626.2" cy="237.5" r="2.0" fill="none" stroke="#000" stroke-width="1.3"/>
<circle cx="626.2" cy="246.7" r="2.0" fill="none" stroke="#000" stroke-width="1.3"/>
<circle cx="626.2" cy="252.8" r="2.0" fill="none" stroke="#000" stroke-width="1.3"/>
<circle cx="616.8" cy="262.2" r="2.0" fill="none" stroke="#000" stroke-width="1.3"/>
<circle cx="626.2" cy="265.2" r="2.0" fill="none" stroke="#000" stroke-width="1.3"/>
<circle cx="636.2" cy="266.2" r="2.0" fill="none" stroke="#000" stroke-width="1.3"/>
<circle cx="616.8" cy="269.2" r="2.0" fill="none" stroke="#000" stroke-width="1.3"/>
<circle cx="649.4" cy="271" r="2.0" fill="none" stroke="#000" stroke-width="1.3"/>
<circle cx="659.6" cy="275.2" r="2.0" fill="none" stroke="#000" stroke-width="1.3"/>
<circle cx="659.6" cy="281.6" r="2.0" fill="none" stroke="#000" stroke-width="1.3"/>
<circle cx="659.6" cy="288" r="2.0" fill="none" stroke="#000" stroke-width="1.3"/>
<circle cx="649.4" cy="291.6" r="2.0" fill="none" stroke="#000" stroke-width="1.3"/>
<circle cx="669.2" cy="292.9" r="2.0" fill="none" stroke="#000" stroke-width="1.3"/>
<circle cx="659.6" cy="295" r="2.0" fill="none" stroke="#000" stroke-width="1.3"/>
<circle cx="659.6" cy="300.1" r="2.0" fill="none" stroke="#000" stroke-width="1.3"/>
<line x1="593.5" y1="252.1" x2="593.5" y2="261.8" stroke="#ff1a1a" stroke-width="1.2"/>
<line x1="588" y1="252.1" x2="598.7" y2="252.1" stroke="#ff1a1a" stroke-width="1.3"/>
<line x1="588" y1="261.8" x2="598.7" y2="261.8" stroke="#ff1a1a" stroke-width="1.3"/>
<line x1="626.2" y1="249.5" x2="626.2" y2="258.8" stroke="#ff1a1a" stroke-width="1.2"/>
<line x1="621.2" y1="249.5" x2="631.6" y2="249.5" stroke="#ff1a1a" stroke-width="1.3"/>
<line x1="621.2" y1="258.8" x2="631.6" y2="258.8" stroke="#ff1a1a" stroke-width="1.3"/>
<line x1="659.6" y1="283.1" x2="659.6" y2="290.1" stroke="#ff1a1a" stroke-width="1.2"/>
<line x1="653.7" y1="283.1" x2="664.9" y2="283.1" stroke="#ff1a1a" stroke-width="1.3"/>
<line x1="653.7" y1="290.1" x2="664.9" y2="290.1" stroke="#ff1a1a" stroke-width="1.3"/>
<text transform="translate(560.5,317) rotate(-90)" font-size="17" text-anchor="start">NO level (%)</text>
<text x="616.5" y="225.4" font-size="17" text-anchor="start" font-weight="normal" >n.s.</text>
<text x="650.5" y="270" font-size="17" text-anchor="start" font-weight="normal" >***</text>
</g></svg>
</body></html>
